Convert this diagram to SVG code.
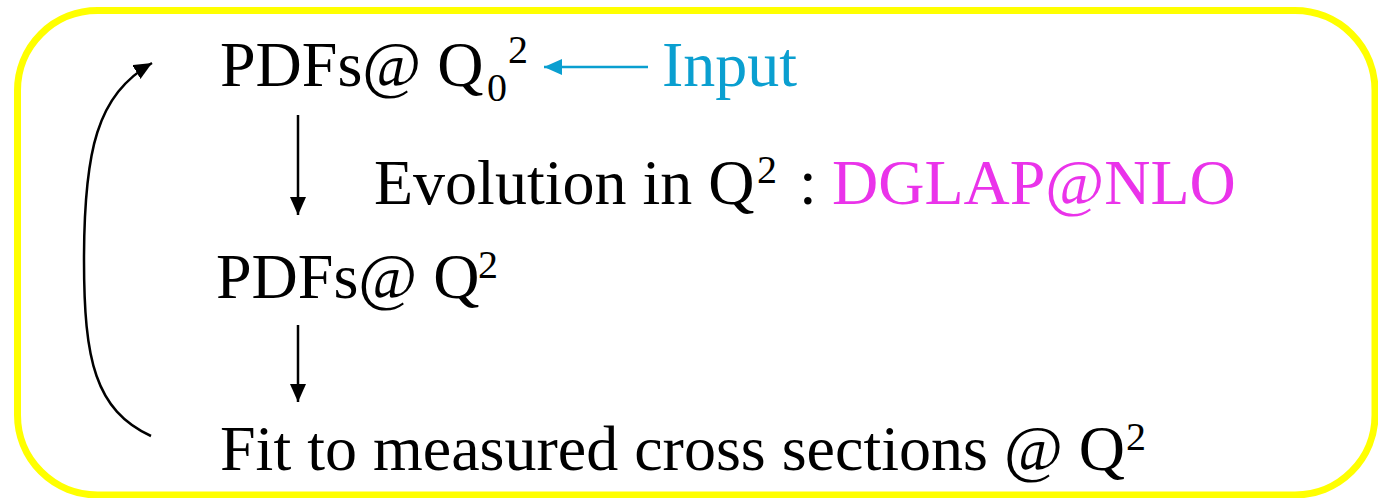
<svg xmlns="http://www.w3.org/2000/svg" width="1378" height="498" viewBox="0 0 1378 498">
<style>
text{font-family:'Liberation Serif','Times New Roman',Times,'DejaVu Serif',serif;font-size:64px;fill:#000}
.s{font-size:40px}
.blue{fill:#0a9fd0}
.mag{fill:#ea33ea}
.c{fill:none;stroke:#000;stroke-width:2.5}
</style>
<defs>
<marker id="ah" markerUnits="userSpaceOnUse" markerWidth="20" markerHeight="18" refX="18" refY="8" orient="auto">
<path d="M0,0 L18,8 L0,16 Z" fill="#000"/>
</marker>
<marker id="ahb" markerUnits="userSpaceOnUse" markerWidth="20" markerHeight="18" refX="18" refY="8" orient="auto">
<path d="M0,0 L18,8 L0,16 Z" fill="#0a9fd0"/>
</marker>
</defs>
<rect x="17.5" y="10.5" width="1357.5" height="484.5" rx="80" ry="80" fill="#fff" stroke="#ffff00" stroke-width="7"/>
<g id="node-pdfs-q0">
<text font-family="Liberation Serif, serif" x="220" y="86">PDFs@ Q<tspan class="s" x="487" y="101">0</tspan><tspan class="s" x="508" y="63">2</tspan></text>
</g>
<g id="node-input">
<text font-family="Liberation Serif, serif" class="blue" x="662" y="86">Input</text>
</g>
<g id="node-evolution">
<text font-family="Liberation Serif, serif" x="374" y="204">Evolution in Q<tspan class="s" x="757" y="183">2</tspan><tspan x="799" y="204">:</tspan><tspan class="mag" x="832" y="204">DGLAP@NLO</tspan></text>
</g>
<g id="node-pdfs-q">
<text font-family="Liberation Serif, serif" x="216" y="298">PDFs@ Q<tspan class="s" x="478" y="278">2</tspan></text>
</g>
<g id="node-fit">
<text font-family="Liberation Serif, serif" x="220" y="470">Fit to measured cross sections @ Q<tspan class="s" x="1126" y="450">2</tspan></text>
</g>
<g id="connectors">
<line x1="648" y1="67" x2="544" y2="67" stroke="#0a9fd0" stroke-width="2.5" marker-end="url(#ahb)"/>
<line class="c" x1="298" y1="115" x2="298" y2="215" marker-end="url(#ah)"/>
<line class="c" x1="298" y1="325" x2="298" y2="402" marker-end="url(#ah)"/>
<path class="c" d="M151,436 C95,410 84,360 84,260 C84,150 97,95 152,63" marker-end="url(#ah)"/>
</g>
</svg>
